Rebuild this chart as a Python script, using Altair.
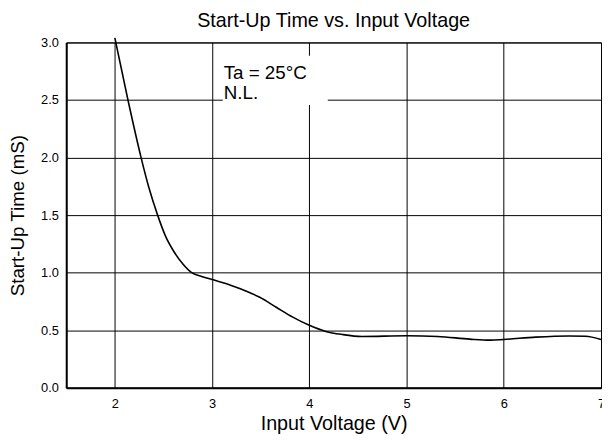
import altair as alt
import pandas as pd

# --- data ---
voltage = [2.0, 2.135, 2.27, 2.35, 2.44, 2.52, 2.61, 2.70, 2.79, 2.90,
           3.0, 3.19, 3.36, 3.49, 3.66, 3.83, 4.0, 4.17, 4.34, 4.54, 5.0, 5.32,
           5.65, 5.86, 6.0, 6.33, 6.67, 6.84, 7.0]
startup_ms = [3.04, 2.50, 2.00, 1.74, 1.50, 1.32, 1.18, 1.075, 1.00, 0.965,
              0.94, 0.891, 0.837, 0.786, 0.70, 0.614, 0.543, 0.49, 0.463, 0.446, 0.452, 0.446,
              0.423, 0.414, 0.42, 0.44, 0.45, 0.448, 0.42]

x_ticks = [2, 3, 4, 5, 6, 7]
y_ticks = [0.0, 0.5, 1.0, 1.5, 2.0, 2.5, 3.0]

note_lines = ["Ta = 25°C", "N.L."]
note_x = [3.12, 3.12]
note_y = [2.685, 2.513]

box_x, box_x2 = 3.11, 4.19
box_y, box_y2 = 2.457, 2.885

curve = pd.DataFrame({"v": voltage, "t": startup_ms})
notes = pd.DataFrame({"label": note_lines, "x": note_x, "y": note_y})
box = pd.DataFrame({"x": [box_x], "x2": [box_x2], "y": [box_y], "y2": [box_y2]})

FONT = "Liberation Sans"

xscale = alt.Scale(domain=[1.5, 7], nice=False, zero=False)
yscale = alt.Scale(domain=[0, 3], nice=False, zero=True)

xaxis = alt.Axis(values=x_ticks, title="Input Voltage (V)", format="d",
                 grid=True, gridColor="black", gridOpacity=1, gridWidth=1,
                 ticks=False, labelPadding=10, labelFontSize=13, labelColor="black",
                 titleFontSize=20, titleFontWeight="normal", titleColor="black",
                 titlePadding=3, domainColor="black", domainWidth=2, labelFlush=False)
yaxis = alt.Axis(values=y_ticks, title="Start-Up Time (mS)", format=".1f",
                 grid=True, gridColor="black", gridOpacity=1, gridWidth=1,
                 ticks=False, labelPadding=8, labelFontSize=13, labelColor="black",
                 titleFontSize=19, titleFontWeight="normal", titleColor="black",
                 titlePadding=13, domainColor="black", domainWidth=2, labelFlush=False)

line = alt.Chart(curve).mark_line(color="black", strokeWidth=1.6, interpolate="monotone").encode(
    x=alt.X("v:Q", scale=xscale, axis=xaxis),
    y=alt.Y("t:Q", scale=yscale, axis=yaxis),
)

rect = alt.Chart(box).mark_rect(color="white").encode(
    x=alt.X("x:Q", scale=xscale), x2="x2:Q",
    y=alt.Y("y:Q", scale=yscale), y2="y2:Q",
)

text = alt.Chart(notes).mark_text(align="left", baseline="alphabetic", fontSize=19,
                                  font=FONT, color="black").encode(
    x=alt.X("x:Q", scale=xscale),
    y=alt.Y("y:Q", scale=yscale),
    text="label:N",
)

chart = alt.layer(rect, line, text).properties(
    width=542, height=350,
    title=alt.TitleParams("Start-Up Time vs. Input Voltage", fontSize=20, fontWeight="normal",
                          font=FONT, color="black", anchor="middle", offset=4),
    autosize=alt.AutoSizeParams(type="none"),
    padding={"left": 59, "top": 32, "right": 1, "bottom": 51},
).configure(font=FONT, background="white").configure_view(
    stroke="black", strokeWidth=1
)

chart.save("out.html", embed_options={"renderer": "svg", "actions": False})
